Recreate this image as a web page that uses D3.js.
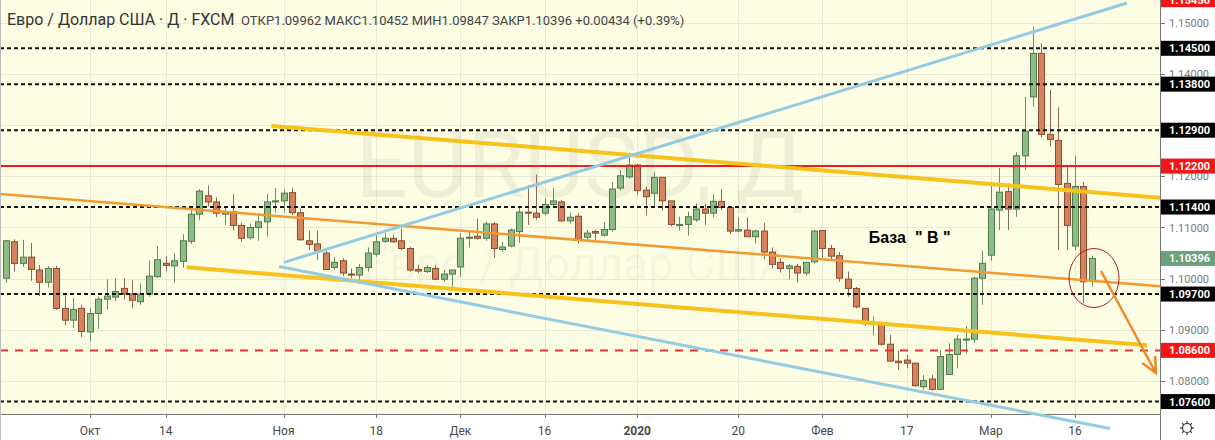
<!DOCTYPE html>
<html><head><meta charset="utf-8">
<script src="https://cdn.jsdelivr.net/npm/d3@7"></script>
<style>html,body{margin:0;padding:0;background:#fff;} svg{display:block;font-family:Roboto,"Liberation Sans",sans-serif;}</style>
</head><body><svg id="c" width="1215" height="440"></svg>
<script>
// ---------- data ----------
const firstDay = "2019-09-17", lastDay = "2020-03-18";
const holidays = ["2019-12-25", "2020-01-01"];
const open  = [1.1001,1.1072,1.1030,1.1042,1.1017,1.0993,1.1020,1.0942,1.0919,1.0942,1.0896,1.0932,1.0960,1.0964,1.0981,1.0970,1.0955,1.0970,1.1004,1.1030,
1.1025,1.1034,1.1073,1.1126,1.1162,1.1150,1.1126,1.1131,1.1104,1.1080,1.1100,1.1111,1.1150,1.1152,1.1168,1.1129,1.1074,1.1068,1.1050,1.1022,
1.1035,1.1009,1.1007,1.1022,1.1048,1.1073,1.1079,1.1074,1.1059,1.1018,1.1014,1.1020,1.0999,1.1009,1.1023,1.1079,1.1083,1.1079,1.1107,1.1057,
1.1064,1.1092,1.1130,1.1128,1.1128,1.1145,1.1150,1.1113,1.1122,1.1081,1.1092,1.1085,1.1096,1.1177,1.1199,1.1222,1.1173,1.1167,1.1198,1.1152,
1.1104,1.1106,1.1115,1.1136,1.1128,1.1151,1.1139,1.1093,1.1095,1.1082,1.1093,1.1052,1.1032,1.1020,1.1024,1.1011,1.1033,1.1094,1.1059,1.1045,
1.0999,1.0981,1.0942,1.0911,1.0912,1.0872,1.0839,1.0841,1.0835,1.0789,1.0804,1.0784,1.0813,1.0852,1.0881,1.0882,1.1001,1.1046,1.1134,1.1170,
1.1136,1.1240,1.1355,1.1440,1.1282,1.1270,1.1186,1.1064,1.1180,1.09962];
const high  = [1.1076,1.1077,1.1076,1.1070,1.1027,1.1025,1.1025,1.0968,1.0962,1.0949,1.0943,1.0965,1.0999,1.1001,1.1001,1.0997,1.0991,1.1035,1.1064,1.1044,
1.1050,1.1087,1.1134,1.1175,1.1182,1.1159,1.1139,1.1165,1.1109,1.1108,1.1128,1.1165,1.1177,1.1175,1.1177,1.1137,1.1094,1.1094,1.1054,1.1042,
1.1040,1.1020,1.1029,1.1061,1.1085,1.1089,1.1085,1.1098,1.1062,1.1027,1.1027,1.1027,1.1017,1.1017,1.1089,1.1095,1.1117,1.1111,1.1111,1.1072,
1.1098,1.1141,1.1183,1.1203,1.1157,1.1177,1.1154,1.1128,1.1128,1.1095,1.1095,1.1111,1.1189,1.1212,1.1242,1.1224,1.1180,1.1208,1.1198,1.1152,
1.1121,1.1131,1.1147,1.1147,1.1165,1.1175,1.1141,1.1120,1.1120,1.1096,1.1109,1.1061,1.1040,1.1029,1.1029,1.1033,1.1095,1.1095,1.1066,1.1052,
1.1014,1.0984,1.0942,1.0926,1.0916,1.0890,1.0859,1.0851,1.0836,1.0812,1.0812,1.0861,1.0874,1.0890,1.0908,1.1004,1.1055,1.1181,1.1216,1.1186,
1.1247,1.1355,1.1492,1.1460,1.1369,1.1335,1.1222,1.1240,1.1189,1.10452];
const low   = [1.0992,1.1014,1.1023,1.0996,1.0966,1.0983,1.0939,1.0909,1.0904,1.0886,1.0877,1.0902,1.0940,1.0956,1.0960,1.0942,1.0949,1.0965,1.1001,1.1014,
1.0992,1.1021,1.1068,1.1115,1.1141,1.1120,1.1105,1.1094,1.1072,1.1076,1.1074,1.1082,1.1129,1.1129,1.1124,1.1074,1.1056,1.1037,1.1017,1.1017,
1.1005,1.1001,1.0990,1.1014,1.1043,1.1070,1.1070,1.1056,1.1014,1.1011,1.1011,1.0997,1.0994,1.0983,1.1004,1.1061,1.1076,1.1074,1.1040,1.1053,
1.1061,1.1070,1.1105,1.1115,1.1124,1.1142,1.1111,1.1108,1.1069,1.1072,1.1072,1.1082,1.1092,1.1172,1.1196,1.1163,1.1124,1.1141,1.1133,1.1102,
1.1094,1.1084,1.1111,1.1105,1.1120,1.1134,1.1087,1.1090,1.1081,1.1069,1.1038,1.1020,1.1012,1.0999,1.0992,1.1006,1.1030,1.1037,1.1037,1.0994,
1.0965,1.0942,1.0908,1.0890,1.0869,1.0838,1.0822,1.0825,1.0789,1.0783,1.0781,1.0783,1.0812,1.0825,1.0854,1.0875,1.0949,1.1035,1.1095,1.1095,
1.1121,1.1212,1.1336,1.1276,1.1258,1.1056,1.1056,1.1056,1.0952,1.09847];
const close = [1.1074,1.1030,1.1042,1.1018,1.0993,1.1020,1.0942,1.0919,1.0940,1.0897,1.0932,1.0960,1.0966,1.0975,1.0970,1.0958,1.0970,1.1005,1.1037,1.1026,
1.1035,1.1074,1.1126,1.1171,1.1150,1.1128,1.1131,1.1104,1.1079,1.1100,1.1111,1.1150,1.1152,1.1167,1.1129,1.1076,1.1067,1.1054,1.1018,1.1032,
1.1011,1.1007,1.1022,1.1050,1.1072,1.1079,1.1072,1.1059,1.1017,1.1015,1.1022,1.0999,1.1009,1.1017,1.1079,1.1081,1.1079,1.1107,1.1059,1.1062,
1.1095,1.1130,1.1128,1.1120,1.1145,1.1152,1.1113,1.1120,1.1077,1.1089,1.1089,1.1096,1.1175,1.1201,1.1222,1.1172,1.1160,1.1198,1.1152,1.1106,
1.1106,1.1121,1.1136,1.1128,1.1151,1.1139,1.1093,1.1096,1.1082,1.1093,1.1052,1.1028,1.1020,1.1025,1.1011,1.1032,1.1093,1.1059,1.1044,1.1001,
1.0981,1.0945,1.0912,1.0913,1.0872,1.0839,1.0836,1.0835,1.0791,1.0801,1.0784,1.0848,1.0852,1.0882,1.0882,1.1001,1.1030,1.1136,1.1169,1.1136,
1.1240,1.1288,1.1440,1.1282,1.1272,1.1184,1.1104,1.1180,1.0994,1.10396];

const priceTicks = [1.15, 1.14, 1.13, 1.12, 1.11, 1.10, 1.09, 1.08];
const blackLevels = [1.145, 1.138, 1.129, 1.114, 1.097, 1.076];
const redSolidLevels = [1.122];
const redDashLevels = [1.086];
const offTopRedLevel = [1.1545];
const lastPrice = 1.10396;

const xTickDates  = ["2019-10-01","2019-10-14","2019-11-01","2019-11-18","2019-12-02","2019-12-16","2020-01-02","2020-01-20","2020-02-03","2020-02-17","2020-03-02","2020-03-16"];
const xTickLabels = ["Окт","14","Ноя","18","Дек","16","2020","20","Фев","17","Мар","16"];

// trend lines: [barIndex, price] endpoints
const blueUp    = [[33.05, 1.10320], [133.17, 1.15385]];
const blueDown  = [[32.46, 1.10238], [131.15, 1.07074]];
const yellowUp  = [[31.56, 1.12982], [137.10, 1.11582]];
const yellowLow = [[21.48, 1.10223], [135.55, 1.08699]];
const orangeMid = [[-0.68, 1.11654], [137.10, 1.09854]];
const arrowPts  = [[130.08, 1.10150], [136.60, 1.08158]];
const circlePt  = [129.25, 1.10013];
const noteText  = "База  \" В \"";
const notePt    = [102.5, 1.10697];

const titleText = "Евро / Доллар США · Д · FXCM";
const ohlcText  = "ОТКР1.09962 МАКС1.10452 МИН1.09847 ЗАКР1.10396 +0.00434 (+0.39%)";

// ---------- build ----------
const fmtDay = d3.timeFormat("%Y-%m-%d"), parseDay = d3.timeParse("%Y-%m-%d");
const dates = d3.timeDay.range(parseDay(firstDay), d3.timeDay.offset(parseDay(lastDay), 1))
  .filter(d => d.getDay() !== 0 && d.getDay() !== 6 && !holidays.includes(fmtDay(d)))
  .map(fmtDay);
const bars = dates.map((d, i) => ({d, i, o: open[i], h: high[i], l: low[i], c: close[i]}));

const PR = 1160, PB = 414, W = 1215, H = 440;
const x = d3.scalePoint().domain(dates).range([5.7, 1091.9]);
const xi = d3.scaleLinear().domain([0, dates.length - 1]).range([5.7, 1091.9]);
const y = d3.scaleLinear().domain([1.08, 1.15]).range([381.1, 22.7]);

const svg = d3.select("#c");
const BG = "#fdfde4";
svg.append("rect").attr("width", W).attr("height", H).attr("fill", "#fff");
svg.append("defs").append("clipPath").attr("id", "plot")
  .append("rect").attr("x", 0).attr("y", 0).attr("width", PR).attr("height", PB);
svg.append("rect").attr("x", 0).attr("y", 0).attr("width", PR).attr("height", PB).attr("fill", BG);

const plot = svg.append("g").attr("clip-path", "url(#plot)");

// grid
plot.append("g").selectAll("line").data(priceTicks).join("line")
  .attr("x1", 0).attr("x2", PR).attr("y1", d => Math.round(y(d)) + 0.5).attr("y2", d => Math.round(y(d)) + 0.5)
  .attr("stroke", "#e9ead2").attr("stroke-width", 1);
plot.append("g").selectAll("line").data(xTickDates).join("line")
  .attr("y1", 0).attr("y2", PB).attr("x1", d => Math.round(x(d)) + 0.5).attr("x2", d => Math.round(x(d)) + 0.5)
  .attr("stroke", "#e9ead2").attr("stroke-width", 1);

// watermark
plot.append("text").attr("x", PR / 2).attr("y", 197).attr("text-anchor", "middle")
  .attr("font-size", 92).attr("fill", "#000").attr("fill-opacity", 0.055).text("EURUSD, Д");
plot.append("text").attr("x", PR / 2 - 4).attr("y", 280).attr("text-anchor", "middle")
  .attr("font-size", 46).attr("fill", "#000").attr("fill-opacity", 0.055).text("Евро / Доллар США");

// candles
const UP_F = "#8fbb86", UP_S = "#4d7a4a", DN_F = "#d7825e", DN_S = "#8c4a2f";
const bw = 6;
const cg = plot.append("g");
cg.selectAll("line").data(bars).join("line")
  .attr("x1", b => Math.round(x(b.d)) + 0.5).attr("x2", b => Math.round(x(b.d)) + 0.5)
  .attr("y1", b => y(b.h)).attr("y2", b => y(b.l))
  .attr("stroke", b => b.c >= b.o ? "#6f8a68" : "#8d6a58").attr("stroke-width", 1);
cg.selectAll("rect").data(bars).join("rect")
  .attr("x", b => Math.round(x(b.d)) - bw / 2 + 0.5).attr("width", bw)
  .attr("y", b => y(Math.max(b.o, b.c))).attr("height", b => Math.max(1, Math.abs(y(b.o) - y(b.c))))
  .attr("fill", b => b.c >= b.o ? UP_F : DN_F).attr("stroke", b => b.c >= b.o ? UP_S : DN_S).attr("stroke-width", 1);

// horizontal levels
plot.append("g").selectAll("line").data(blackLevels).join("line")
  .attr("x1", 0).attr("x2", PR).attr("y1", d => y(d)).attr("y2", d => y(d))
  .attr("stroke", "#111").attr("stroke-width", 2).attr("stroke-dasharray", "4,3");
plot.append("g").selectAll("line").data(redSolidLevels).join("line")
  .attr("x1", 0).attr("x2", PR).attr("y1", d => y(d)).attr("y2", d => y(d))
  .attr("stroke", "#f01c1c").attr("stroke-width", 2);
plot.append("g").selectAll("line").data(redDashLevels).join("line")
  .attr("x1", 0).attr("x2", PR).attr("y1", d => y(d)).attr("y2", d => y(d))
  .attr("stroke", "#e63232").attr("stroke-width", 2).attr("stroke-dasharray", "8,7");

// trend lines
const seg = (g, pts, color, w) => g.append("line")
  .attr("x1", xi(pts[0][0])).attr("y1", y(pts[0][1])).attr("x2", xi(pts[1][0])).attr("y2", y(pts[1][1]))
  .attr("stroke", color).attr("stroke-width", w).attr("stroke-linecap", "butt");
seg(plot, orangeMid, "#f09a34", 2.5);
seg(plot, yellowUp, "#f6c21c", 4);
seg(plot, yellowLow, "#f6c21c", 4);
seg(plot, blueUp, "#93cbe3", 3);

// ellipse
plot.append("ellipse").attr("cx", xi(circlePt[0])).attr("cy", y(circlePt[1])).attr("rx", 25).attr("ry", 29.5)
  .attr("fill", "none").attr("stroke", "#b01c1c").attr("stroke-width", 1);

// arrow
{
  const x1 = xi(arrowPts[0][0]), y1 = y(arrowPts[0][1]), x2 = xi(arrowPts[1][0]), y2 = y(arrowPts[1][1]);
  const a = Math.atan2(y2 - y1, x2 - x1), L = 17, sp = 0.45;
  const p = d3.path();
  p.moveTo(x1, y1); p.lineTo(x2, y2);
  p.moveTo(x2 - L * Math.cos(a - sp), y2 - L * Math.sin(a - sp)); p.lineTo(x2, y2);
  p.lineTo(x2 - L * Math.cos(a + sp), y2 - L * Math.sin(a + sp));
  svg.append("path").attr("d", p.toString()).attr("fill", "none").attr("stroke", "#f08a28").attr("stroke-width", 2.5);
}

// note
plot.append("text").attr("x", xi(notePt[0])).attr("y", y(notePt[1])).attr("font-size", 16).attr("font-weight", "bold")
  .attr("font-family", "'Liberation Sans', Arial, sans-serif").attr("fill", "#000").style("white-space", "pre").text(noteText);

// bottom axis
svg.append("rect").attr("x", 0).attr("y", PB).attr("width", PR).attr("height", H - PB).attr("fill", "#fff");
svg.append("line").attr("x1", 0).attr("x2", W).attr("y1", PB + 0.5).attr("y2", PB + 0.5).attr("stroke", "#777");
const xAxisG = svg.append("g");
xAxisG.selectAll("line").data(xTickDates).join("line")
  .attr("x1", d => Math.round(x(d)) + 0.5).attr("x2", d => Math.round(x(d)) + 0.5).attr("y1", PB).attr("y2", PB + 4).attr("stroke", "#777");
xAxisG.selectAll("text").data(xTickDates).join("text")
  .attr("x", d => x(d)).attr("y", 435).attr("text-anchor", "middle").attr("font-size", 12)
  .attr("font-weight", (d, i) => xTickLabels[i] === "2020" ? "bold" : "normal")
  .attr("fill", "#4a4a4a").text((d, i) => xTickLabels[i]);

// lower blue runs past the plot into the time scale
seg(svg, blueDown, "#93cbe3", 3);

// right axis
svg.append("rect").attr("x", PR).attr("y", 0).attr("width", W - PR).attr("height", H).attr("fill", "#fff");
svg.append("line").attr("x1", PR + 0.5).attr("x2", PR + 0.5).attr("y1", 0).attr("y2", H).attr("stroke", "#777");
const ra = svg.append("g");
ra.selectAll("line").data(priceTicks).join("line")
  .attr("x1", PR).attr("x2", PR + 5).attr("y1", d => Math.round(y(d)) + 0.5).attr("y2", d => Math.round(y(d)) + 0.5).attr("stroke", "#777");
// labels that a level box fully covers are not drawn (as on the reference)
const boxLevels = blackLevels.concat(redSolidLevels, redDashLevels, [lastPrice]);
const visibleTicks = priceTicks.filter(t => !boxLevels.some(b => Math.abs(y(b) - y(t)) < 6));
ra.selectAll("text").data(visibleTicks).join("text")
  .attr("x", PR + 9).attr("y", d => y(d) + 4).attr("font-size", 11).attr("fill", "#7a7a7a").text(d => d.toFixed(5));

const box = (lv, fill) => {
  const g = svg.append("g");
  g.selectAll("rect").data(lv).join("rect").attr("x", PR + 1).attr("y", d => y(d) - 7.5).attr("width", W - PR - 1).attr("height", 15).attr("fill", fill);
  g.selectAll("text").data(lv).join("text").attr("x", PR + 9).attr("y", d => y(d) + 4).attr("font-size", 11).attr("font-weight", "bold")
    .attr("fill", "#fff").text(d => d.toFixed(5));
};
box(blackLevels, "#000");
box(redSolidLevels, "#f21616");
box(redDashLevels, "#f21616");
box(offTopRedLevel, "#f21616");
box([lastPrice], "#6aa17c");

// settings icon
{
  const cx = 1187, cy = 428, g = svg.append("g").attr("stroke", "#333").attr("fill", "none").attr("stroke-width", 1.2);
  g.append("circle").attr("cx", cx).attr("cy", cy).attr("r", 4.5);
  d3.range(8).forEach(k => { const a = k * Math.PI / 4; g.append("line")
    .attr("x1", cx + 4.5 * Math.cos(a)).attr("y1", cy + 4.5 * Math.sin(a)).attr("x2", cx + 7 * Math.cos(a)).attr("y2", cy + 7 * Math.sin(a)); });
}

// header
svg.append("text").attr("x", 7).attr("y", 24.5).attr("font-size", 16).attr("fill", "#333").text(titleText);
svg.append("text").attr("x", 241).attr("y", 24.5).attr("font-size", 13).attr("fill", "#444").text(ohlcText);

// outer border
svg.append("line").attr("x1", 0.5).attr("x2", 0.5).attr("y1", 0).attr("y2", H).attr("stroke", "#bbb");
</script></body></html>
